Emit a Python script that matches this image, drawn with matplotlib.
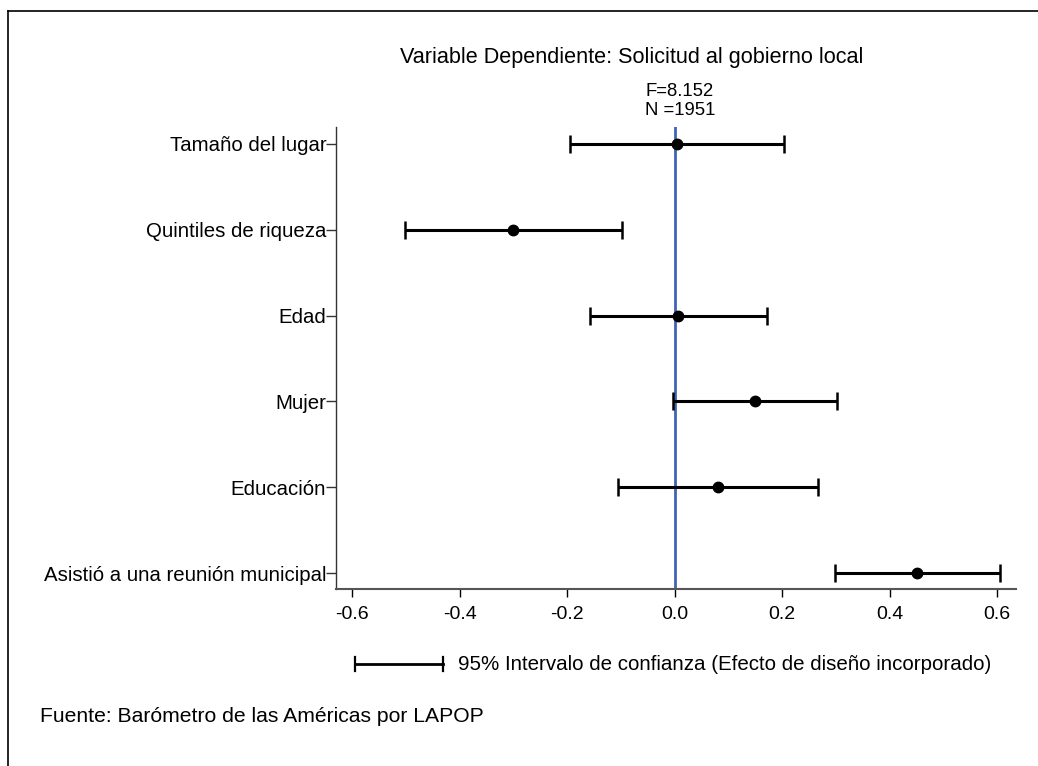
import matplotlib
matplotlib.use("Agg")
import matplotlib.pyplot as plt
from matplotlib.lines import Line2D

plt.rcParams['font.family'] = ['Liberation Sans', 'DejaVu Sans']

categories = ["Tamaño del lugar", "Quintiles de riqueza", "Edad", "Mujer",
              "Educación", "Asistió a una reunión municipal"]
coef = [0.004, -0.300, 0.006, 0.149, 0.080, 0.451]
ci_low = [-0.194, -0.502, -0.158, -0.004, -0.105, 0.298]
ci_high = [0.203, -0.098, 0.171, 0.302, 0.267, 0.605]
xticks = [-0.6, -0.4, -0.2, 0.0, 0.2, 0.4, 0.6]
xtick_labels = ["-0.6", "-0.4", "-0.2", "0.0", "0.2", "0.4", "0.6"]
title = "Variable Dependiente: Solicitud al gobierno local"
stats_text = "F=8.152\nN =1951"
legend_text = "95% Intervalo de confianza (Efecto de diseño incorporado)"
source_text = "Fuente: Barómetro de las Américas por LAPOP"

W, H = 1038, 766
fig = plt.figure(figsize=(W / 100, H / 100), dpi=100)
fig.patch.set_facecolor("white")

ax = fig.add_axes([336 / W, 1 - 589 / H, (1016 - 336) / W, (589 - 127) / H])
n = len(categories)
ypos = [n - 1 - i for i in range(n)]

ax.axvline(0, color="#4064B4", lw=2.0, zorder=1)
xerr = [[c - l for c, l in zip(coef, ci_low)], [h - c for c, h in zip(coef, ci_high)]]
ax.errorbar(coef, ypos, xerr=xerr, fmt="o", color="black", ecolor="black",
            elinewidth=2.2, capsize=6.5, capthick=1.8, markersize=7.5, zorder=3)

ax.set_xlim(-0.630, 0.635)
ax.set_ylim(-0.186, n - 1 + 0.198)
ax.set_xticks(xticks)
ax.set_xticklabels(xtick_labels, fontsize=14)
ax.set_yticks(ypos)
ax.set_yticklabels(categories, fontsize=14.7)
ax.tick_params(axis="x", direction="out", length=6, width=1, color="black", pad=6)
ax.tick_params(axis="y", direction="out", length=7, width=1, color="#333333", pad=0)
for s in ["top", "right"]:
    ax.spines[s].set_visible(False)
ax.spines["bottom"].set_color("#555555")
ax.spines["bottom"].set_linewidth(1.5)
ax.spines["left"].set_color("#333333")
ax.spines["left"].set_linewidth(1.0)

fig.text(632 / W, 1 - 57 / H, title, ha="center", va="center", fontsize=15.6)
fig.text(680 / W, 1 - 101 / H, stats_text, ha="center", va="center", fontsize=13.3,
         linespacing=1.15)

# legend sample
ly = 1 - 664 / H
fig.add_artist(Line2D([355 / W, 443 / W], [ly, ly], color="black", lw=2.0,
                      transform=fig.transFigure))
for xx in (355, 443):
    fig.add_artist(Line2D([xx / W, xx / W], [ly - 7 / H, ly + 7 / H], color="black",
                          lw=1.6, transform=fig.transFigure))
fig.text(458 / W, ly, legend_text, ha="left", va="center", fontsize=14.8)
fig.text(40 / W, 1 - 717 / H, source_text, ha="left", va="center", fontsize=15.2)

# frame lines
fig.add_artist(Line2D([8 / W, 1.0], [1 - 11 / H, 1 - 11 / H], color="black", lw=1.2,
                      transform=fig.transFigure))
fig.add_artist(Line2D([8 / W, 8 / W], [0.0, 1 - 11 / H], color="black", lw=1.2,
                      transform=fig.transFigure))

fig.savefig("out.png", dpi=100)
